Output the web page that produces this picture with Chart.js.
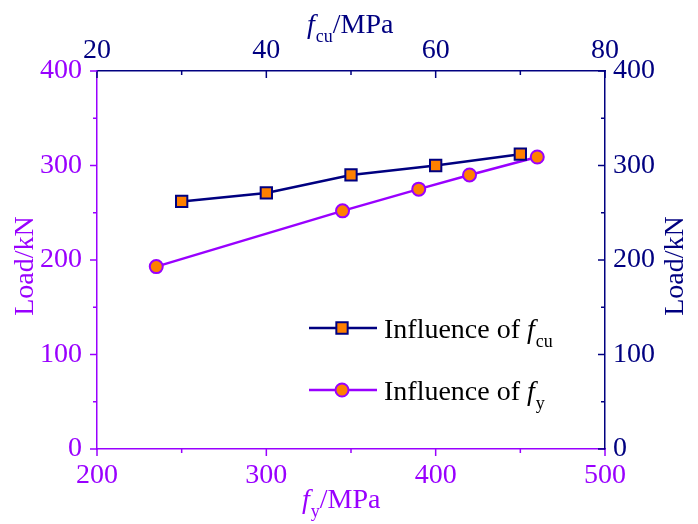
<!DOCTYPE html>
<html>
<head>
<meta charset="utf-8">
<script src="https://cdn.jsdelivr.net/npm/chart.js@4"></script>
<style>
  html, body { margin: 0; padding: 0; background: #fff; }
</style>
</head>
<body>
<canvas id="chart" width="698" height="524"></canvas>
<script>
// data
const fcuValues = [30, 40, 50, 60, 70];
const fcuLoads = [262, 271, 290, 300, 312];
const fyValues = [235, 345, 390, 420, 460];
const fyLoads = [193, 252, 275, 290, 309];

const PURPLE = "#9900ff";
const NAVY = "#000080";
const ORANGE = "#ff8000";
const SERIF = "'Liberation Serif', 'Times New Roman', serif";
const FONT_SIZE = 28;

Chart.defaults.font.family = SERIF;
Chart.defaults.font.size = FONT_SIZE;

// draws text pieces with italic / subscript parts
function drawRich(ctx, x, y, parts, color) {
  ctx.fillStyle = color;
  ctx.textBaseline = "alphabetic";
  ctx.textAlign = "left";
  parts.forEach((p) => {
    const size = p.sub ? 18 : FONT_SIZE;
    ctx.font = (p.italic ? "italic " : "") + size + "px " + SERIF;
    ctx.fillText(p.text, x, y + (p.sub ? 9 : 0));
    x += ctx.measureText(p.text).width + (p.gap || 0);
  });
}

const decorPlugin = {
  id: "decor",
  afterDraw(chart) {
    const ctx = chart.ctx;
    const area = chart.chartArea;
    ctx.save();

    // tick marks: left/bottom outward, top/right inward
    const tickDefs = [
      { id: "x", color: PURPLE },
      { id: "x2", color: NAVY },
      { id: "y", color: PURPLE },
      { id: "y2", color: NAVY },
    ];
    tickDefs.forEach((d) => {
      const s = chart.scales[d.id];
      ctx.strokeStyle = d.color;
      ctx.lineWidth = 1.5;
      s.ticks.forEach((t, i) => {
        const major = String(s.options.ticks.callback.call(s, t.value, i, s.ticks)) !== "";
        const len = major ? 7 : 4;
        const p = s.getPixelForValue(t.value);
        ctx.beginPath();
        if (d.id === "x") { ctx.moveTo(p, area.bottom); ctx.lineTo(p, area.bottom + len); }
        if (d.id === "x2") { ctx.moveTo(p, area.top); ctx.lineTo(p, area.top + len); }
        if (d.id === "y") { ctx.moveTo(area.left, p); ctx.lineTo(area.left - len, p); }
        if (d.id === "y2") { ctx.moveTo(area.right, p); ctx.lineTo(area.right - len, p); }
        ctx.stroke();
      });
    });

    // axis titles
    drawRich(ctx, 307, 33, [
      { text: "f", italic: true, gap: 1 },
      { text: "cu", sub: true },
      { text: "/MPa" },
    ], NAVY);
    drawRich(ctx, 302, 508, [
      { text: "f", italic: true, gap: 1 },
      { text: "y", sub: true },
      { text: "/MPa" },
    ], PURPLE);

    ctx.font = FONT_SIZE + "px " + SERIF;
    ctx.textAlign = "center";
    ctx.textBaseline = "middle";
    [[26, PURPLE], [676, NAVY]].forEach(([cx, col]) => {
      ctx.save();
      ctx.translate(cx, 266);
      ctx.rotate(-Math.PI / 2);
      ctx.fillStyle = col;
      ctx.fillText("Load/kN", 0, 0);
      ctx.restore();
    });

    // legend
    const rows = [
      { ds: 0, y: 328, sub: "cu" },
      { ds: 1, y: 390, sub: "y" },
    ];
    rows.forEach((r) => {
      const ds = chart.data.datasets[r.ds];
      ctx.strokeStyle = ds.borderColor;
      ctx.lineWidth = ds.borderWidth;
      ctx.beginPath();
      ctx.moveTo(309, r.y);
      ctx.lineTo(377, r.y);
      ctx.stroke();
      ctx.fillStyle = ds.pointBackgroundColor;
      ctx.strokeStyle = ds.pointBorderColor;
      ctx.lineWidth = ds.pointBorderWidth;
      Chart.helpers.drawPoint(ctx, {
        pointStyle: ds.pointStyle,
        radius: ds.pointRadius,
        borderWidth: ds.pointBorderWidth,
      }, 342, r.y);
      drawRich(ctx, 384, r.y + 10, [
        { text: "Influence of " },
        { text: "f", italic: true, gap: 1 },
        { text: r.sub, sub: true },
      ], "#000");
    });

    ctx.restore();
  },
};

const majorEvery = (step) => function (value) {
  return value % step === 0 ? String(value) : "";
};

new Chart(document.getElementById("chart").getContext("2d"), {
  type: "line",
  data: {
    datasets: [
      {
        label: "Influence of fcu",
        data: fcuValues.map((v, i) => ({ x: v, y: fcuLoads[i] })),
        xAxisID: "x2",
        yAxisID: "y2",
        borderColor: NAVY,
        borderWidth: 2.5,
        pointStyle: "rect",
        pointRadius: 8,
        pointBorderWidth: 2,
        pointBackgroundColor: ORANGE,
        pointBorderColor: NAVY,
      },
      {
        label: "Influence of fy",
        data: fyValues.map((v, i) => ({ x: v, y: fyLoads[i] })),
        xAxisID: "x",
        yAxisID: "y",
        borderColor: PURPLE,
        borderWidth: 2.5,
        pointStyle: "circle",
        pointRadius: 6.5,
        pointBorderWidth: 2,
        pointBackgroundColor: ORANGE,
        pointBorderColor: PURPLE,
      },
    ],
  },
  options: {
    responsive: false,
    animation: false,
    layout: { padding: 0 },
    plugins: { legend: { display: false }, tooltip: { enabled: false } },
    scales: {
      x: {
        type: "linear",
        position: "bottom",
        min: 200,
        max: 500,
        grid: { display: false },
        border: { color: PURPLE, width: 1.5 },
        ticks: { stepSize: 50, autoSkip: false, maxRotation: 0, color: PURPLE, padding: 2, callback: majorEvery(100) },
        afterFit: (s) => { s.height = 75; },
      },
      x2: {
        type: "linear",
        position: "top",
        min: 20,
        max: 80,
        grid: { display: false },
        border: { color: NAVY, width: 1.5 },
        ticks: { stepSize: 10, autoSkip: false, maxRotation: 0, color: NAVY, padding: -4, callback: majorEvery(20) },
        afterFit: (s) => { s.height = 71; },
      },
      y: {
        position: "left",
        min: 0,
        max: 400,
        grid: { display: false },
        border: { color: PURPLE, width: 1.5 },
        ticks: { stepSize: 50, autoSkip: false, color: PURPLE, padding: 7, callback: majorEvery(100) },
        afterFit: (s) => { s.width = 97; },
      },
      y2: {
        position: "right",
        min: 0,
        max: 400,
        grid: { display: false },
        border: { color: NAVY, width: 1.5 },
        ticks: { stepSize: 50, autoSkip: false, color: NAVY, padding: 0, callback: majorEvery(100) },
        afterFit: (s) => { s.width = 93; },
      },
    },
  },
  plugins: [decorPlugin],
});
</script>
</body>
</html>
